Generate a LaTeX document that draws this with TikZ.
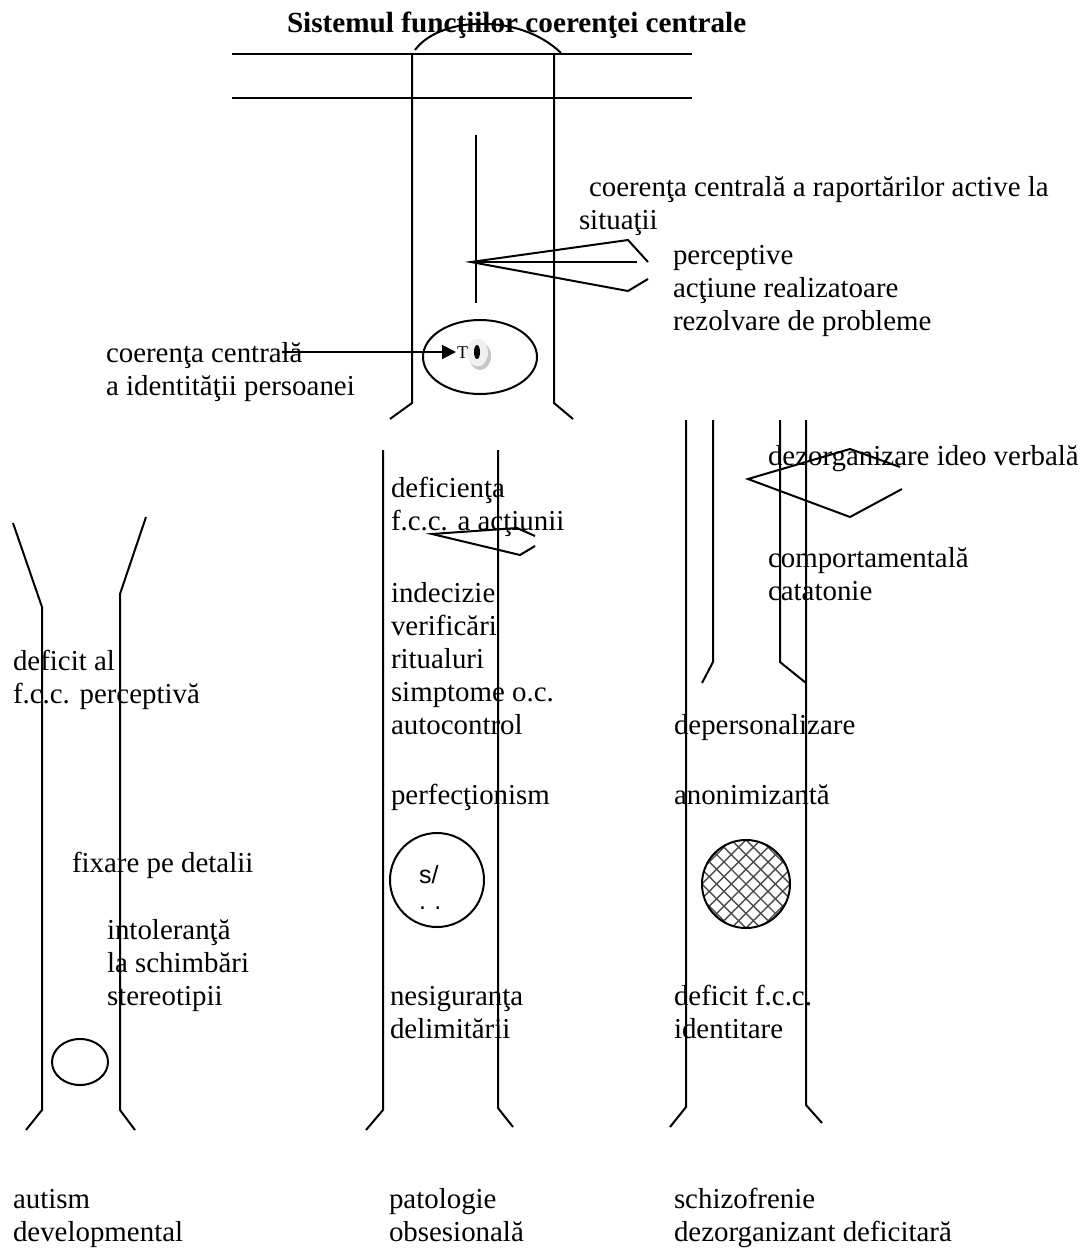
\documentclass[tikz,border=0pt]{standalone}
\usepackage{fontspec}
\setmainfont{Liberation Serif}
\setsansfont{Liberation Sans}
\usetikzlibrary{arrows.meta}
\begin{document}
\begin{tikzpicture}[x=0.5pt,y=-0.5pt,line width=1pt,every node/.style={font=\fontsize{14.45}{16.5}\selectfont},
  lbl/.style={anchor=base west,inner sep=0pt,align=left},hatchline/.style={line width=0.7pt,black!70}]
\useasboundingbox (0,0) rectangle (1089,1253);
\node[lbl,font=\bfseries\fontsize{14.6}{16.5}\selectfont] (title) at (286,32) {Sistemul funcţiilor coerenţei centrale};
\draw (232,54)--(692,54); \draw (232,98)--(692,98);
\draw (415,50) .. controls (440,16) and (520,13) .. (561,53);
\draw (390,419)--(412,403)--(412,54); \draw (573,419)--(554,403)--(554,54);
\draw (476,135)--(476,303);
\draw (648,262)--(628,240)--(471,262)--(628,291)--(648,279); \draw (471,262)--(637,262);
\draw (480,357) ellipse [x radius=57,y radius=37];
\fill[gray!45] (480,356) ellipse [x radius=11,y radius=14];
\fill[gray!12] (477.5,352.5) ellipse [x radius=10.5,y radius=14];
\fill (477,352) ellipse [x radius=3,y radius=7];
\node[lbl,font=\fontsize{9}{10}\selectfont] (tmark) at (456,358) {T};
\coordinate (arrstart) at (282,352);
\draw[-{Triangle[length=7pt,width=7pt]}] (arrstart)--(tmark.west |- arrstart);
\node[lbl] (sitlbl) at (578,229) {\hspace*{5pt}coerenţa centrală a raportărilor active la\\situaţii};
\node[lbl] (modlbl) at (672,330) {perceptive\\acţiune realizatoare\\rezolvare de probleme};
\node[lbl] (idlbl) at (105,395) {coerenţa centrală\\a identităţii persoanei};
\draw (13,523)--(42,607)--(42,1110)--(26,1130);
\draw (146,517)--(120,594)--(120,1110)--(135,1130);
\draw (80,1062) ellipse [x radius=28,y radius=23];
\node[lbl] (perclbl) at (12,703) {deficit al\\f.c.c. perceptivă};
\node[lbl] (detlbl) at (71,872) {fixare pe detalii};
\node[lbl] (intlbl) at (106,1005) {intoleranţă\\la schimbări\\stereotipii};
\node[lbl] (autlbl) at (12,1241) {autism\\developmental};
\draw (383,450)--(383,1110)--(366,1130);
\draw (498,450)--(498,1108)--(513,1127);
\draw (535,536)--(517,528)--(432,534)--(520,555)--(535,546);
\draw (437,880) circle (47);
\node[lbl,font=\sffamily\fontsize{12.5}{13}\selectfont] (sbar) at (418,909) {s/\\.\,\,.};
\node[lbl] (actlbl) at (390,530) {deficienţa\\f.c.c. a acţiunii};
\node[lbl] (symlbl) at (390,734) {indecizie\\verificări\\ritualuri\\simptome o.c.\\autocontrol};
\node[lbl] (perflbl) at (390,804) {perfecţionism};
\node[lbl] (nesiglbl) at (389,1038) {nesiguranţa\\delimitării};
\node[lbl] (oclbl) at (388,1241) {patologie\\obsesională};
\draw (686,420)--(686,1107)--(670,1127);
\draw (806,420)--(806,1105)--(822,1123);
\draw (713,420)--(713,662)--(702,683);
\draw (780,420)--(780,662)--(806,683);
\draw (900,467)--(850,449)--(748,479)--(850,517)--(902,489);
\begin{scope}
\clip (746,884) circle (44);
\foreach \k in {-7,...,7}{
  \draw[hatchline] (746+\k*14.7-60,824)--++(120,120);
  \draw[hatchline] (746+\k*14.7-60,944)--++(120,-120);}
\end{scope}
\draw (746,884) circle (44);
\node[lbl] (ideolbl) at (767,465) {dezorganizare ideo verbală};
\node[lbl] (catlbl) at (767,600) {comportamentală\\catatonie};
\node[lbl] (deperslbl) at (673,734) {depersonalizare};
\node[lbl] (anonlbl) at (673,804) {anonimizantă};
\node[lbl] (identlbl) at (673,1038) {deficit f.c.c.\\identitare};
\node[lbl] (schizlbl) at (673,1241) {schizofrenie\\dezorganizant deficitară};
\end{tikzpicture}
\end{document}
